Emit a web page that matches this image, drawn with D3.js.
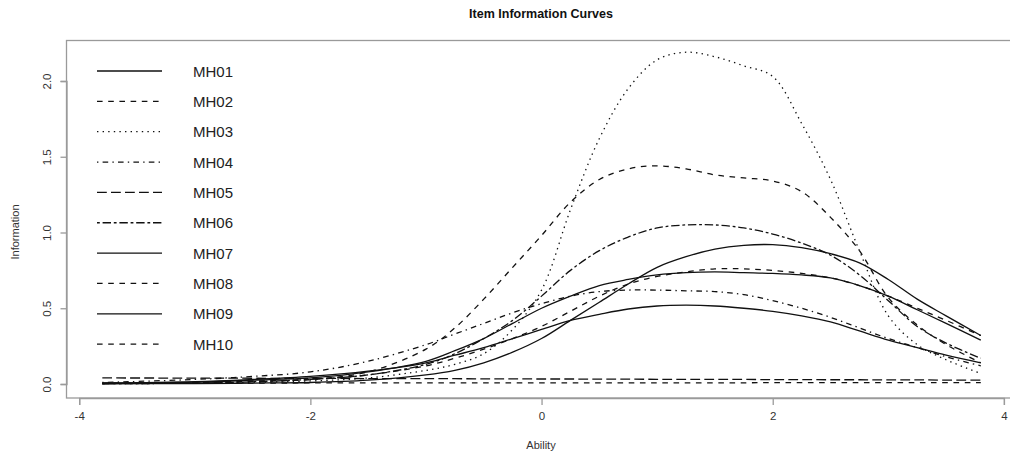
<!DOCTYPE html>
<html><head><meta charset="utf-8">
<script src="https://cdn.jsdelivr.net/npm/d3@7"></script>
<style>
html,body{margin:0;padding:0;background:#fff;}
svg{display:block;}
text{font-family:"Liberation Sans",Arial,sans-serif;}
.tick-lab{font-family:"Liberation Sans Narrow","Liberation Sans",Arial,sans-serif;}
</style></head>
<body>
<svg id="c" width="1010" height="455"></svg>
<script>
const theta = [-3.8,-3,-2.5,-2,-1.5,-1,-0.75,-0.5,-0.25,0,0.25,0.5,0.75,1,1.25,1.5,1.75,2,2.25,2.5,2.75,3,3.25,3.5,3.8];
const items = ["MH01","MH02","MH03","MH04","MH05","MH06","MH07","MH08","MH09","MH10"];
const MH01 = [0.001,0.003,0.006,0.01,0.025,0.06,0.09,0.14,0.21,0.3,0.42,0.54,0.66,0.77,0.84,0.89,0.915,0.92,0.9,0.86,0.8,0.69,0.56,0.45,0.32];
const MH02 = [0.003,0.01,0.018,0.03,0.08,0.23,0.37,0.56,0.77,0.98,1.2,1.35,1.42,1.44,1.42,1.38,1.36,1.34,1.27,1.1,0.88,0.57,0.39,0.26,0.14];
const MH03 = [0.002,0.005,0.01,0.02,0.04,0.09,0.13,0.2,0.36,0.62,1.15,1.62,1.95,2.14,2.19,2.16,2.1,2.03,1.72,1.35,0.88,0.45,0.26,0.16,0.07];
const MH04 = [0.01,0.03,0.05,0.08,0.15,0.26,0.33,0.4,0.47,0.53,0.58,0.61,0.62,0.62,0.615,0.61,0.59,0.55,0.5,0.44,0.37,0.3,0.24,0.18,0.12];
const MH05 = [0.04,0.039,0.038,0.037,0.036,0.035,0.035,0.034,0.034,0.033,0.033,0.032,0.032,0.031,0.031,0.03,0.03,0.029,0.029,0.028,0.028,0.027,0.027,0.026,0.026];
const MH06 = [0.002,0.006,0.015,0.03,0.06,0.13,0.2,0.3,0.42,0.58,0.75,0.88,0.97,1.03,1.05,1.05,1.03,0.99,0.93,0.85,0.72,0.55,0.38,0.27,0.17];
const MH07 = [0.005,0.012,0.025,0.04,0.08,0.15,0.22,0.3,0.4,0.5,0.58,0.65,0.69,0.72,0.735,0.74,0.735,0.73,0.72,0.7,0.65,0.58,0.49,0.4,0.29];
const MH08 = [0.003,0.01,0.018,0.03,0.06,0.12,0.17,0.23,0.3,0.38,0.48,0.58,0.66,0.71,0.74,0.76,0.76,0.75,0.73,0.7,0.65,0.58,0.5,0.42,0.32];
const MH09 = [0.006,0.015,0.03,0.05,0.085,0.14,0.19,0.24,0.3,0.36,0.42,0.46,0.495,0.515,0.52,0.515,0.5,0.48,0.45,0.41,0.35,0.29,0.24,0.19,0.14];
const MH10 = [0.006,0.006,0.006,0.007,0.007,0.007,0.007,0.007,0.007,0.008,0.008,0.008,0.008,0.008,0.008,0.008,0.008,0.009,0.009,0.009,0.009,0.009,0.009,0.009,0.009];
const seriesValues = [MH01,MH02,MH03,MH04,MH05,MH06,MH07,MH08,MH09,MH10];
const xTicks = [-4,-2,0,2,4];
const yTicks = [0,0.5,1,1.5,2];

// R lty patterns (scaled)
const s = 1.4;
const dashes = {
  solid: null,
  dashed: [4*s,4*s].join(","),
  dotted: [1*s,3*s].join(","),
  dotdash: [1*s,3*s,4*s,3*s].join(","),
  longdash: [7*s,3*s].join(","),
  twodash: [2*s,2*s,6*s,2*s].join(",")
};
const ltys = ["solid","dashed","dotted","dotdash","longdash","twodash","solid","dashed","solid","dashed"];

const svg = d3.select("#c");
const x = d3.scaleLinear().domain([-4,4]).range([79.2,1003.9]);
const y = d3.scaleLinear().domain([0,2]).range([384,81]);

const axisCol = "#9a9a9a", labCol = "#333";

// box
svg.append("rect").attr("x",66.5).attr("y",40.5).attr("width",950).attr("height",357.5)
  .attr("fill","none").attr("stroke",axisCol).attr("stroke-width",1.3);

// title
svg.append("text").attr("x",541).attr("y",18).attr("text-anchor","middle")
  .attr("font-weight","bold").attr("font-size",12.5).attr("fill","#111").text("Item Information Curves");

// x axis
const gx = svg.append("g").attr("transform","translate(0,398)")
  .call(d3.axisBottom(x).tickValues(xTicks).tickSize(7).tickPadding(7).tickFormat(d3.format("d")));
gx.select(".domain").attr("stroke",axisCol).attr("stroke-width",1.3);
gx.selectAll(".tick line").attr("stroke",axisCol).attr("stroke-width",1.3);
gx.selectAll(".tick text").attr("class","tick-lab").attr("font-size",11.5).attr("fill",labCol)
  .text(d=>d<0?"-"+Math.abs(d):d);

// y axis
const gy = svg.append("g").attr("transform","translate(66.5,0)")
  .call(d3.axisLeft(y).tickValues(yTicks).tickSize(6).tickFormat(d3.format(".1f")));
gy.select(".domain").attr("stroke",axisCol).attr("stroke-width",1.3);
gy.selectAll(".tick line").attr("stroke",axisCol).attr("stroke-width",1.3);
gy.selectAll(".tick text").attr("class","tick-lab").attr("font-size",11.5).attr("fill",labCol)
  .attr("x",null).attr("dy",null).attr("text-anchor","middle")
  .attr("transform","translate(-19,0) rotate(-90)").attr("y",0).attr("dominant-baseline","middle");

// axis titles
svg.append("text").attr("class","tick-lab").attr("x",541).attr("y",449).attr("text-anchor","middle")
  .attr("font-size",11).attr("fill",labCol).text("Ability");
svg.append("text").attr("class","tick-lab").attr("transform","translate(19,232) rotate(-90)")
  .attr("text-anchor","middle").attr("font-size",11).attr("fill",labCol).text("Information");

// curves
const line = d3.line().x((d,i)=>x(theta[i])).y(d=>y(d)).curve(d3.curveCatmullRom.alpha(0.5));
const g = svg.append("g");
seriesValues.forEach((vals,k)=>{
  g.append("path").datum(vals).attr("d",line).attr("fill","none")
    .attr("stroke","#111").attr("stroke-width",1.3)
    .attr("stroke-dasharray",dashes[ltys[k]]);
});

// legend
const lg = svg.append("g");
items.forEach((name,k)=>{
  const yy = 71 + k*30.35;
  lg.append("line").attr("x1",97).attr("x2",162).attr("y1",yy).attr("y2",yy)
    .attr("stroke","#111").attr("stroke-width",1.3).attr("stroke-dasharray",dashes[ltys[k]]);
  lg.append("text").attr("x",193).attr("y",yy+5.5).attr("font-size",15).attr("fill","#222").text(name);
});
</script>
</body></html>
